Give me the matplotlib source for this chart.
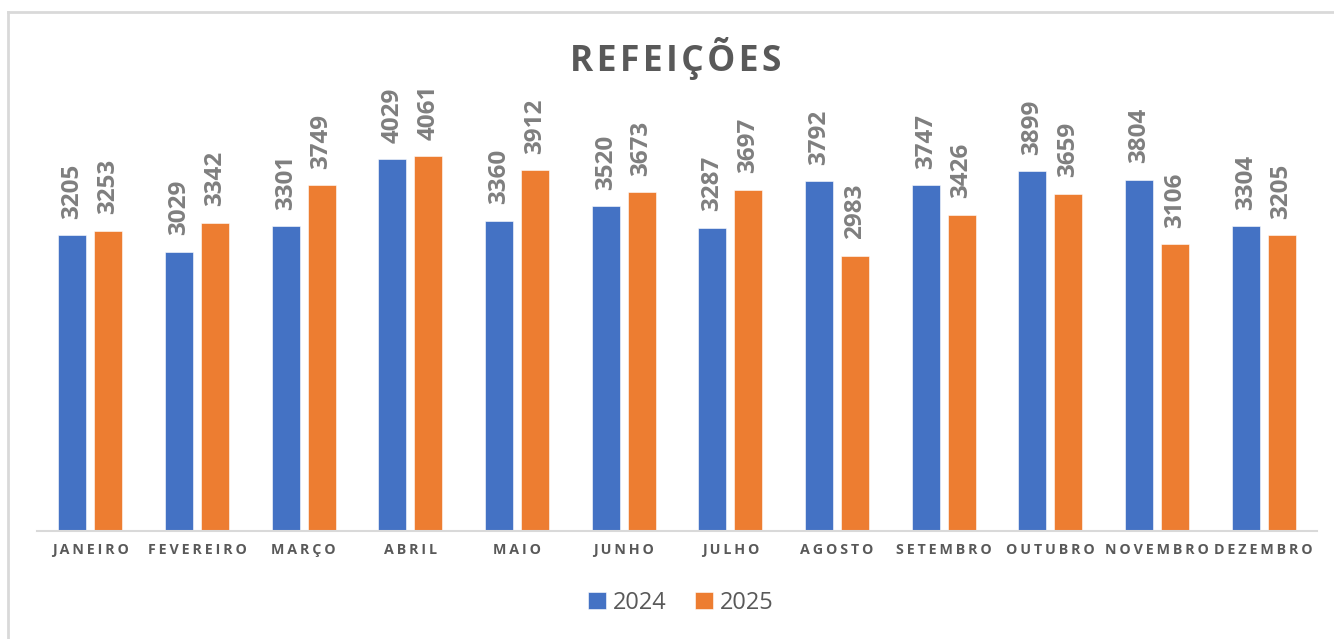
import matplotlib.pyplot as plt
import numpy as np
from matplotlib.lines import Line2D

# data
meses = ['JANEIRO', 'FEVEREIRO', 'MARÇO', 'ABRIL', 'MAIO', 'JUNHO',
         'JULHO', 'AGOSTO', 'SETEMBRO', 'OUTUBRO', 'NOVEMBRO', 'DEZEMBRO']
refeicoes_2024 = [3205, 3029, 3301, 4029, 3360, 3520, 3287, 3792, 3747, 3899, 3804, 3304]
refeicoes_2025 = [3253, 3342, 3749, 4061, 3912, 3673, 3697, 2983, 3426, 3659, 3106, 3205]

azul = '#4472C4'
laranja = '#ED7D31'
cinza = '#595959'

W, H = 1334, 639
fig = plt.figure(figsize=(W / 100, H / 100), dpi=100)
fam = ['Open Sans', 'DejaVu Sans']

# chart border (top and left only visible)
fig.add_artist(Line2D([8 / W, 1], [1 - 12 / H, 1 - 12 / H], color='#D9D9D9', lw=2))
fig.add_artist(Line2D([8 / W, 8 / W], [0, 1 - 12 / H], color='#D9D9D9', lw=2))

# plot area
left, right, base, top = 37, 1317, 530.5, 90
ax = fig.add_axes([left / W, 1 - base / H, (right - left) / W, (base - top) / H])

x = np.arange(len(meses))
w = 0.2625
off = 0.168
b1 = ax.bar(x - off, refeicoes_2024, w, color=azul, edgecolor='white', linewidth=0.4, label='2024')
b2 = ax.bar(x + off, refeicoes_2025, w, color=laranja, edgecolor='white', linewidth=0.4, label='2025')

for bars, vals in [(b1, refeicoes_2024), (b2, refeicoes_2025)]:
    for r, v in zip(bars, vals):
        ax.annotate(str(v), (r.get_x() + r.get_width() / 2, v), xytext=(0, 12),
                    textcoords='offset points', rotation=90, ha='center', va='bottom',
                    fontsize=17.5, fontweight='bold', color='#7F7F7F', family=fam)

ax.set_xlim(-0.5, len(meses) - 0.5)
ax.set_ylim(0, (base - top) / 0.0921)
ax.set_yticks([])
for s in ['top', 'right', 'left']:
    ax.spines[s].set_visible(False)
ax.spines['bottom'].set_color('#D9D9D9')
ax.spines['bottom'].set_linewidth(1.5)

sp = '\u2009'
ax.set_xticks(x)
ax.set_xticklabels([sp.join(m) for m in meses], fontsize=10.3, fontweight='bold',
                   color=cinza, family=fam)
ax.tick_params(axis='x', length=0, pad=9)

fig.text(676 / W, 1 - 59 / H, '\u200a'.join('REFEIÇÕES'), ha='center', va='center',
         fontsize=25.5, fontweight='bold', color=cinza, family=fam)

leg = fig.legend(handles=[b1, b2], labels=['2024', '2025'], loc='center',
                 bbox_to_anchor=(681 / W, 1 - 603 / H), ncol=2, frameon=False,
                 prop={'family': 'Open Sans', 'size': 17}, handlelength=0.75,
                 handleheight=0.75, handletextpad=0.3, columnspacing=1.2)
for t in leg.get_texts():
    t.set_color(cinza)

fig.savefig('out.png', dpi=100)
